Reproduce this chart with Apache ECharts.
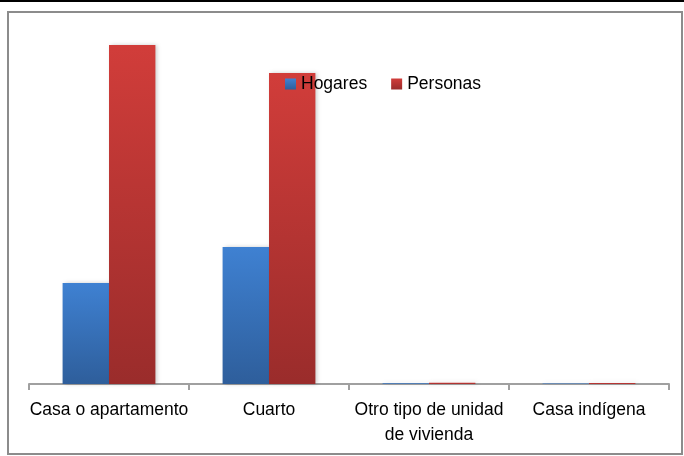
<!DOCTYPE html>
<html>
<head>
<meta charset="utf-8">
<script src="https://cdn.jsdelivr.net/npm/echarts@6/dist/echarts.min.js"></script>
<style>
    html, body { margin: 0; padding: 0; background: #fff; }
    #chart { width: 684px; height: 456px; }
</style>
</head>
<body>
<div id="chart"></div>
<script>
// datos
var categories = ['Casa o apartamento', 'Cuarto', 'Otro tipo de unidad\nde vivienda', 'Casa indígena']
var seriesNames = ['Hogares', 'Personas']
var hogares = [1010, 1370, 8, 6]
var personas = [3390, 3110, 12, 10]

var chart = echarts.init(document.getElementById('chart'))

function grad(top, bottom) {
    return new echarts.graphic.LinearGradient(0, 0, 0, 1, [
        { offset: 0, color: top },
        { offset: 1, color: bottom },
    ])
}

var option = {
    backgroundColor: '#fff',
    animation: false,
    textStyle: { fontFamily: 'Liberation Sans, Arial, sans-serif' },
    graphic: [
        // linea negra superior
        { type: 'rect', shape: { x: 0, y: 0, width: 684, height: 2 }, style: { fill: '#000' }, z: 100 },
        // marco del gráfico
        {
            type: 'rect',
            shape: { x: 8, y: 12, width: 674, height: 442 },
            style: { fill: 'none', stroke: '#8c8c8c', lineWidth: 2 },
            z: 100,
        },
    ],
    legend: {
        data: seriesNames,
        icon: 'rect',
        left: 285,
        top: 75,
        padding: 0,
        itemWidth: 11,
        itemHeight: 11,
        itemGap: 24,
        textStyle: { fontSize: 17.5, color: '#000' },
    },
    grid: {
        left: 29,
        right: 15,
        top: 34,
        bottom: 72,
    },
    xAxis: {
        type: 'category',
        data: categories,
        axisLine: { lineStyle: { color: '#a0a0a0', width: 2 } },
        axisTick: { show: true, length: 6, lineStyle: { color: '#a0a0a0', width: 2 } },
        axisLabel: {
            color: '#000',
            fontSize: 17.5,
            lineHeight: 25,
            margin: 14,
            interval: 0,
        },
    },
    yAxis: {
        type: 'value',
        min: 0,
        max: 3500,
        show: false,
        splitLine: { show: false },
    },
    series: [
        {
            name: seriesNames[0],
            type: 'bar',
            data: hogares,
            barGap: '0%',
            barCategoryGap: '42%',
            itemStyle: {
                color: grad('#3f81d2', '#2e5e9b'),
                shadowBlur: 4,
                shadowOffsetX: 2,
                shadowColor: 'rgba(0,0,0,0.2)',
            },
        },
        {
            name: seriesNames[1],
            type: 'bar',
            data: personas,
            barGap: '0%',
            barCategoryGap: '42%',
            itemStyle: {
                color: grad('#d13d3a', '#9a2c2b'),
                shadowBlur: 4,
                shadowOffsetX: 2,
                shadowColor: 'rgba(0,0,0,0.2)',
            },
        },
    ],
}
option && chart.setOption(option)
</script>
</body>
</html>
